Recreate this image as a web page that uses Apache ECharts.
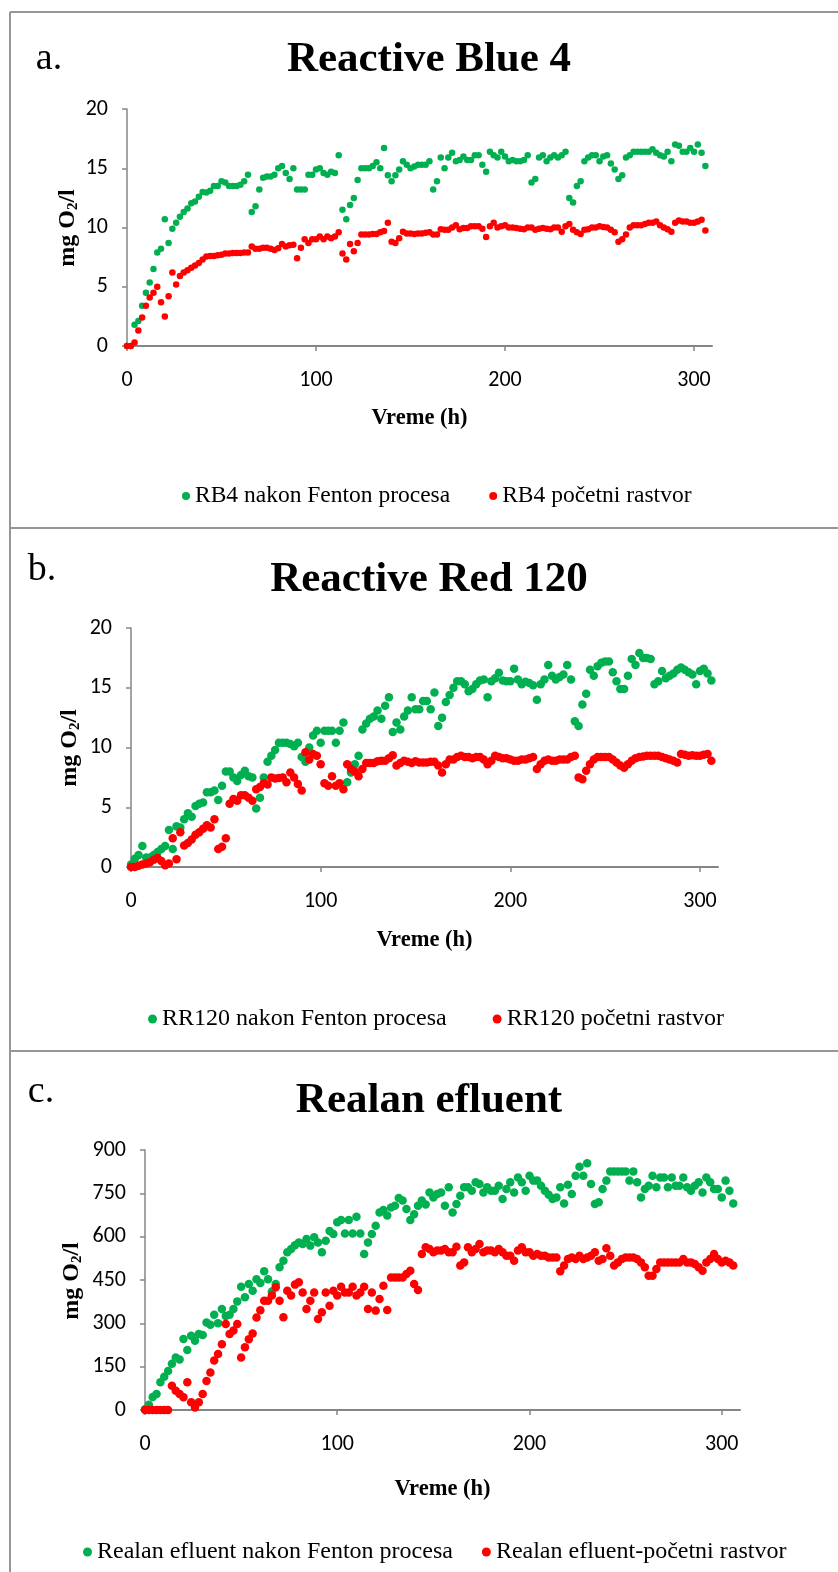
<!DOCTYPE html>
<html>
<head>
<meta charset="utf-8">
<script src="https://cdn.jsdelivr.net/npm/echarts@6/dist/echarts.min.js"></script>
<style>
html,body{margin:0;padding:0;background:#fff;}
#c{width:838px;height:1572px;}
</style>
</head>
<body>
<div id="c"></div>
<script>
// Sampling times (h), shared by every series
const hours = [
  0,2,4,6,8,10,12,14,16,18,
  20,22,24,26,28,30,32,34,36,38,
  40,42,44,46,48,50,52,54,56,58,
  60,62,64,66,68,70,72,74,76,78,
  80,82,84,86,88,90,92,94,96,98,
  100,102,104,106,108,110,112,114,116,118,
  120,122,124,126,128,130,132,134,136,138,
  140,142,144,146,148,150,152,154,156,158,
  160,162,164,166,168,170,172,174,176,178,
  180,182,184,186,188,190,192,194,196,198,
  200,202,204,206,208,210,212,214,216,218,
  220,222,224,226,228,230,232,234,236,238,
  240,242,244,246,248,250,252,254,256,258,
  260,262,264,266,268,270,272,274,276,278,
  280,282,284,286,288,290,292,294,296,298,
  300,302,304,306
];

// a. Reactive Blue 4 (mg O2/l)
const rb4Fenton = [
  0,0,1.8,2.1,3.4,4.5,5.35,6.5,7.9,8.2,
  10.7,8.7,9.9,10.4,10.9,11.3,11.6,12.05,12.2,12.6,
  13.0,12.95,13.1,13.5,13.5,13.9,13.8,13.5,13.5,13.5,
  13.6,13.9,14.45,11.3,11.8,13.2,14.2,14.3,14.3,14.45,
  15.0,15.2,14.6,14.1,15.0,13.2,13.2,13.2,14.45,14.45,
  14.9,15.0,14.6,14.45,14.7,14.6,16.1,11.5,10.7,11.9,
  12.5,14.0,15.0,15.0,15.0,15.2,15.5,15.0,16.7,14.4,
  13.9,14.4,14.9,15.6,15.3,15.0,15.15,15.3,15.3,15.3,
  15.6,13.2,13.9,15.9,15.0,15.9,16.3,15.6,15.7,16.0,
  15.7,15.7,16.1,16.1,15.3,14.7,16.4,16.1,15.9,16.4,
  16.0,15.6,15.7,15.6,15.6,15.7,16.1,13.8,14.1,15.9,
  16.1,15.6,15.9,16.1,15.9,16.1,16.4,12.5,12.1,13.5,
  13.9,15.6,15.9,16.1,16.1,15.6,16.0,16.1,15.4,14.9,
  14.1,14.4,15.9,16.1,16.4,16.4,16.4,16.4,16.4,16.6,
  16.3,16.1,16.0,16.4,15.6,17.0,16.9,16.4,16.4,16.7,
  16.4,17.0,16.3,15.2
];
const rb4Initial = [
  0,0,0.3,1.3,2.4,3.4,4.1,4.5,5.0,3.7,
  2.5,4.2,6.2,5.2,5.9,6.2,6.4,6.6,6.8,7.0,
  7.3,7.55,7.6,7.6,7.65,7.7,7.8,7.8,7.85,7.85,
  7.85,7.9,7.9,8.4,8.2,8.2,8.3,8.3,8.2,8.1,
  8.25,8.6,8.4,8.5,8.55,7.4,8.3,9.0,8.7,9.0,
  9.0,9.25,9.0,9.25,9.1,9.25,9.6,7.8,7.3,8.6,
  8.0,8.7,9.4,9.4,9.4,9.45,9.45,9.6,9.7,10.4,
  8.8,8.7,9.1,9.65,9.5,9.5,9.45,9.5,9.5,9.55,
  9.6,9.4,9.4,9.85,9.8,9.8,10.0,10.2,9.85,9.95,
  9.95,10.1,10.1,10.1,9.9,9.2,10.1,10.4,10.0,10.1,
  10.2,10.0,10.0,9.95,9.9,9.85,10.0,10.0,9.8,9.9,
  9.95,9.9,9.85,10.0,10.0,9.65,10.1,10.3,9.8,9.6,
  9.45,9.8,9.85,10.0,10.0,10.1,10.05,10.0,9.8,9.6,
  8.8,9.0,9.4,10.0,10.2,10.2,10.2,10.3,10.4,10.4,
  10.5,10.2,10.0,9.85,9.65,10.4,10.6,10.5,10.5,10.4,
  10.4,10.5,10.65,9.75
];

// b. Reactive Red 120 (mg O2/l)
const rr120Fenton = [
  0.2,0.7,1.0,1.75,0.8,0.8,1.0,1.25,1.5,1.75,
  3.1,1.5,3.4,3.3,4.0,4.5,4.2,5.1,5.3,5.4,
  6.25,6.25,6.4,5.6,6.8,8.0,8.0,7.5,7.2,7.7,
  8.05,7.6,7.5,4.9,5.8,7.5,8.8,9.3,9.8,10.4,
  10.4,10.4,10.3,10.1,10.4,9.2,8.8,10.0,11.0,11.4,
  10.4,11.4,11.4,11.4,10.4,11.4,12.1,7.1,7.9,8.6,
  9.3,11.5,12.0,12.4,12.6,13.1,12.4,13.5,14.2,11.3,
  12.1,11.5,12.6,13.1,14.2,13.2,13.2,13.9,13.9,13.2,
  14.6,11.8,12.5,13.8,14.4,15.0,15.55,15.55,15.3,14.7,
  14.9,15.3,15.6,15.7,14.2,15.55,15.8,16.25,15.6,15.55,
  15.55,16.6,15.7,15.3,15.5,15.4,15.2,14.0,15.3,15.7,
  16.9,16.0,15.7,15.9,16.1,16.9,15.7,12.2,11.8,13.6,
  14.5,16.5,16.0,16.8,17.1,17.2,17.2,16.3,15.55,14.9,
  14.9,16.0,17.4,16.9,17.9,17.5,17.5,17.4,15.3,15.55,
  16.4,15.8,16.0,16.2,16.5,16.7,16.5,16.3,16.1,15.3,
  16.4,16.6,16.2,15.6
];
const rr120Initial = [
  0,0,0.1,0.2,0.3,0.4,0.6,0.75,0.5,0.15,
  0.3,2.4,0.65,2.9,1.8,2.0,2.3,2.7,2.9,3.2,
  3.5,3.3,4.0,1.5,1.7,2.4,5.3,5.7,5.55,6.0,
  6.0,5.8,5.55,6.5,6.7,7.0,6.9,7.5,7.4,7.45,
  7.5,7.1,7.9,7.5,6.95,6.4,9.6,9.0,9.45,9.3,
  8.6,7.0,6.8,7.6,6.8,7.0,6.5,8.6,8.2,8.0,
  7.6,8.2,8.7,8.7,8.7,8.85,8.9,8.9,9.1,9.35,
  8.5,8.7,8.9,8.8,8.7,8.85,8.75,8.75,8.75,8.8,
  8.8,8.5,7.9,8.6,9.0,9.0,9.2,9.3,9.2,9.2,
  9.1,9.2,9.2,9.0,8.6,8.9,9.3,9.2,9.1,9.1,
  9.0,8.9,8.9,9.0,9.0,9.1,9.2,8.2,8.6,8.9,
  9.0,8.9,8.9,9.0,9.0,9.0,9.2,9.3,7.5,7.35,
  8.05,8.6,9.0,9.2,9.2,9.2,9.2,9.0,8.75,8.5,
  8.3,8.6,8.9,9.1,9.2,9.25,9.3,9.3,9.3,9.3,
  9.2,9.1,9.0,8.9,8.75,9.45,9.4,9.3,9.35,9.3,
  9.3,9.4,9.45,8.9
];

// c. Realan efluent (mg O2/l)
const effluentFenton = [
  3,18,45,55,96,115,135,160,182,175,
  246,208,257,240,263,260,303,295,330,300,
  350,325,330,350,376,427,390,436,413,453,
  440,480,453,410,436,494,517,546,557,570,
  580,575,592,569,598,580,546,586,620,609,
  650,658,611,658,611,669,611,540,580,609,
  638,684,692,673,701,707,734,725,696,658,
  678,707,725,711,753,736,748,753,707,771,
  684,713,742,771,771,759,788,782,753,771,
  759,759,776,730,765,788,753,805,788,759,
  811,794,794,776,759,745,730,736,771,715,
  780,748,811,842,811,854,782,713,719,765,
  794,826,826,826,826,826,794,826,788,736,
  765,776,811,771,805,805,771,805,776,776,
  805,771,759,776,788,753,805,788,765,765,
  736,794,759,715
];
const effluentInitial = [
  0,0,0,0,0,0,0,84,67,55,
  44,96,27,9,27,55,100,130,171,194,
  228,298,263,275,298,182,217,245,265,320,
  345,378,378,396,425,378,321,413,396,434,
  442,407,350,378,407,315,338,407,361,413,
  396,427,407,407,427,396,407,427,350,407,
  344,384,430,346,459,459,459,459,471,482,
  436,415,540,563,557,546,552,552,557,546,
  546,565,500,511,563,546,557,575,546,552,
  552,546,557,546,534,534,517,552,563,546,
  546,534,540,534,534,528,528,528,480,500,
  523,528,523,534,523,528,534,546,517,523,
  560,534,500,511,523,528,528,528,523,511,
  494,465,465,488,511,511,511,511,511,511,
  523,511,511,505,494,482,511,523,540,523,
  511,517,511,500
];

// Axis ticks
const xTicks = [0, 100, 200, 300];
const yTicksDye = [0, 5, 10, 15, 20];
const yTicksEffluent = [0, 150, 300, 450, 600, 750, 900];

const titles = ['Reactive Blue 4', 'Reactive Red 120', 'Realan efluent'];
const letters = ['a.', 'b.', 'c.'];
const seriesNames = [
  ['RB4 nakon Fenton procesa', 'RB4 početni rastvor'],
  ['RR120 nakon Fenton procesa', 'RR120 početni rastvor'],
  ['Realan efluent nakon Fenton procesa', 'Realan efluent-početni rastvor']
];
const seriesValues = [
  [rb4Fenton, rb4Initial],
  [rr120Fenton, rr120Initial],
  [effluentFenton, effluentInitial]
];
const yTickSets = [yTicksDye, yTicksDye, yTicksEffluent];

const GREEN = '#00B050';
const RED = '#FF0000';
const AXIS_GRAY = '#868686';
const FRAME_GRAY = '#969696';
const SERIF = "'Liberation Serif', 'Times New Roman', serif";
const TICK_FONT = "Carlito, 'Liberation Sans Narrow', 'DejaVu Sans Condensed', 'Liberation Sans', sans-serif";

// Layout of the three stacked panels
const layout = [
  { grid: {left: 127, top: 109, width: 585, height: 237}, yName: [68, 228], xNameGap: 61,
    title: [429, 60], letter: [49, 59], legend: {left: 177, top: 479, gap: 39, icon: 8, font: 23.5}, symbol: 6.5 },
  { grid: {left: 131, top: 628, width: 587, height: 239}, yName: [70, 748], xNameGap: 62,
    title: [429, 580], letter: [42, 570], legend: {left: 143, top: 1002, gap: 46, icon: 9, font: 24}, symbol: 8.5 },
  { grid: {left: 145, top: 1150, width: 595, height: 260}, yName: [72, 1281], xNameGap: 68,
    title: [429, 1101], letter: [41, 1092], legend: {left: 78, top: 1535, gap: 29, icon: 9, font: 24}, symbol: 8.5 }
];

function pairs(xs, ys) {
  const out = [];
  for (let i = 0; i < Math.min(xs.length, ys.length); i++) out.push([xs[i], ys[i]]);
  return out;
}

const grids = [], xAxes = [], yAxes = [], series = [], legends = [], graphics = [];

layout.forEach((p, i) => {
  grids.push(Object.assign({containLabel: false}, p.grid));
  const yt = yTickSets[i];
  xAxes.push({
    type: 'value', gridIndex: i, min: 0, max: 309.5,
    name: 'Vreme (h)', nameLocation: 'middle', nameGap: p.xNameGap,
    nameTextStyle: {fontFamily: SERIF, fontWeight: 'bold', fontSize: 22.5, color: '#000'},
    axisLine: {show: true, onZero: false, lineStyle: {color: AXIS_GRAY, width: 2}},
    axisTick: {show: true, customValues: xTicks, length: 5, inside: false, lineStyle: {color: AXIS_GRAY, width: 1.5}},
    axisLabel: {customValues: xTicks, margin: 23, fontFamily: TICK_FONT, fontSize: 22, color: '#000'},
    splitLine: {show: false}
  });
  yAxes.push({
    type: 'value', gridIndex: i, min: yt[0], max: yt[yt.length - 1], interval: yt[1] - yt[0],
    axisLine: {show: true, onZero: false, lineStyle: {color: AXIS_GRAY, width: 1.5}},
    axisTick: {show: true, length: 5, inside: false, lineStyle: {color: AXIS_GRAY, width: 1.5}},
    axisLabel: {margin: 19, fontFamily: TICK_FONT, fontSize: 22, color: '#000'},
    splitLine: {show: false}
  });
  const names = seriesNames[i];
  const vals = seriesValues[i];
  [GREEN, RED].forEach((col, k) => {
    series.push({
      type: 'scatter', name: names[k], xAxisIndex: i, yAxisIndex: i,
      symbol: 'circle', symbolSize: p.symbol,
      itemStyle: {color: col, opacity: 1},
      emphasis: {disabled: true},
      data: pairs(hours, vals[k]),
      z: 2 + k
    });
  });
  legends.push({
    data: names, left: p.legend.left, top: p.legend.top, orient: 'horizontal',
    itemWidth: p.legend.icon, itemHeight: p.legend.icon, itemGap: p.legend.gap,
    icon: 'circle', selectedMode: false,
    textStyle: {fontFamily: SERIF, fontSize: p.legend.font, color: '#000'}
  });
  // vertical axis title, reading bottom to top
  graphics.push({
    type: 'text', x: p.yName[0], y: p.yName[1], rotation: Math.PI / 2,
    style: {
      text: 'mg O{sub|2}/l', fontFamily: SERIF, fontWeight: 'bold', fontSize: 24, fill: '#000',
      align: 'center', verticalAlign: 'middle',
      rich: {sub: {fontFamily: SERIF, fontWeight: 'bold', fontSize: 15, fill: '#000', verticalAlign: 'bottom', lineHeight: 26, padding: [9, 0, 0, 0]}}
    }
  });
  graphics.push({
    type: 'text', x: p.title[0], y: p.title[1],
    style: {text: titles[i], fontFamily: SERIF, fontWeight: 'bold', fontSize: 43, fill: '#000', align: 'center', verticalAlign: 'middle'}
  });
  graphics.push({
    type: 'text', x: p.letter[0], y: p.letter[1],
    style: {text: letters[i], fontFamily: SERIF, fontSize: 38, fill: '#000', align: 'center', verticalAlign: 'middle'}
  });
});

// Panel frame: top edge, left edge and the two separators
[[10, 12, 838, 12], [10, 12, 10, 1572], [10, 528, 838, 528], [10, 1051, 838, 1051]].forEach(s => {
  graphics.push({
    type: 'line', shape: {x1: s[0], y1: s[1], x2: s[2], y2: s[3]},
    style: {stroke: FRAME_GRAY, lineWidth: 2}, z: 10
  });
});

const chart = echarts.init(document.getElementById('c'), null, {renderer: 'canvas'});
chart.setOption({
  animation: false,
  backgroundColor: '#fff',
  grid: grids,
  xAxis: xAxes,
  yAxis: yAxes,
  legend: legends,
  series: series,
  graphic: graphics
});
</script>
</body>
</html>
